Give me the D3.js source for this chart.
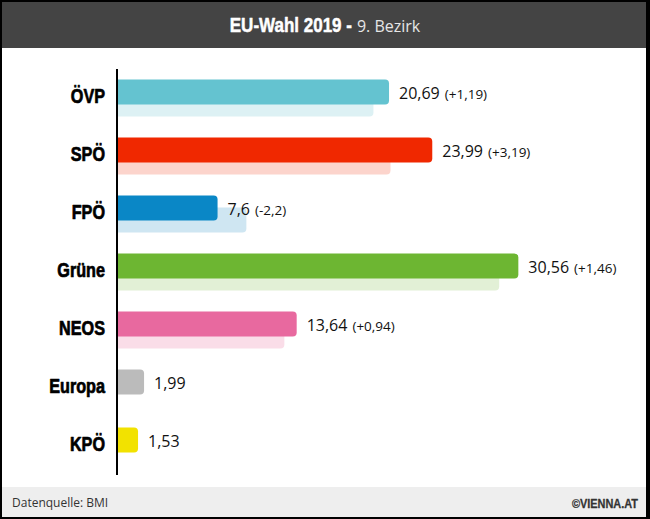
<!DOCTYPE html>
<html>
<head>
<meta charset="utf-8">
<script src="https://cdn.jsdelivr.net/npm/d3@7"></script>
<style>
  html, body { margin: 0; padding: 0; background: #fff; }
  svg { display: block; }
</style>
</head>
<body>
<div id="chart"></div>
<script>
// ---- data ----
const parties = ["ÖVP", "SPÖ", "FPÖ", "Grüne", "NEOS", "Europa", "KPÖ"];
const values  = [20.69, 23.99, 7.6, 30.56, 13.64, 1.99, 1.53];
const changes = [1.19, 3.19, -2.2, 1.46, 0.94, null, null];
const colors      = ["#64C3D0", "#F02800", "#0A87C6", "#6DB632", "#E8699F", "#BBBBBB", "#F2E200"];
const lightColors = ["#DDF1F4", "#FCD4CC", "#CFE6F2", "#E2F0D6", "#FADDE8", null, null];
const titleBold = "EU-Wahl 2019 -";
const titleRest = "9. Bezirk";
const sourceText = "Datenquelle: BMI";
const brandText = "©VIENNA.AT";

const W = 650, H = 519;
const boldFont = "'Liberation Sans', Arial, sans-serif";
const sans = "'Open Sans', 'Noto Sans', sans-serif";
const NARROW = 0.81;

const fmt = v => String(v).replace(".", ",");
const fmtChange = c => "(" + (c > 0 ? "+" : "") + fmt(Math.round(c * 100) / 100) + ")";

const data = parties.map((p, i) => ({
  party: p, value: values[i], change: changes[i],
  prev: changes[i] == null ? null : Math.round((values[i] - changes[i]) * 100) / 100,
  color: colors[i], light: lightColors[i]
}));

const svg = d3.select("#chart").append("svg").attr("width", W).attr("height", H);

function narrowText(parent, x, y, anchor, size, fill, txt, heavy) {
  const g = parent.append("g").attr("transform", `translate(${x},${y}) scale(${NARROW},1)`);
  const t = g.append("text").attr("x", 0).attr("y", 0).attr("text-anchor", anchor)
    .attr("font-family", boldFont).attr("font-weight", "bold").attr("font-size", size)
    .attr("fill", fill).text(txt);
  if (heavy) t.attr("stroke", fill).attr("stroke-width", heavy).attr("stroke-linejoin", "round");
  return t;
}

// frame
svg.append("rect").attr("width", W).attr("height", H).attr("fill", "#000");
svg.append("rect").attr("x", 2).attr("y", 2).attr("width", 644).attr("height", 515).attr("fill", "#fff");

// header
svg.append("rect").attr("x", 2).attr("y", 2).attr("width", 644).attr("height", 46).attr("fill", "#444444");
const tb = narrowText(svg, 0, 32, "start", 21, "#fff", titleBold, 0.5);
const tr = svg.append("text").attr("y", 32).attr("font-family", sans).attr("font-size", 16)
  .attr("fill", "#e6e6e6").text(titleRest);
const wb = tb.node().getComputedTextLength() * NARROW;
const gap = 5;
const wr = tr.node().getComputedTextLength();
const tx0 = 325 - (wb + gap + wr) / 2;
d3.select(tb.node().parentNode).attr("transform", `translate(${tx0},32) scale(${NARROW},1)`);
tr.attr("x", tx0 + wb + gap);

// footer
svg.append("rect").attr("x", 2).attr("y", 487).attr("width", 644).attr("height", 30).attr("fill", "#EEEEEE");
svg.append("text").attr("x", 12).attr("y", 507).text(sourceText)
  .attr("font-family", sans).attr("font-size", 12).attr("fill", "#333");
narrowText(svg, 638, 507.5, "end", 13.5, "#333", brandText, 0.3);

// scales
const x = d3.scaleLinear().domain([0, 40]).range([118, 642]);
const y = d3.scaleBand().domain(parties).range([63, 469]);
const barH = 25;

function barPath(x0, x1, yTop, h, r) {
  const w = x1 - x0;
  r = Math.min(r, w / 2, h / 2);
  return `M${x0},${yTop}H${x1 - r}Q${x1},${yTop} ${x1},${yTop + r}V${yTop + h - r}Q${x1},${yTop + h} ${x1 - r},${yTop + h}H${x0}Z`;
}

const g = svg.append("g");
const rows = g.selectAll("g.row").data(data).join("g").attr("class", "row");

// previous-result bars
rows.filter(d => d.prev != null).append("path")
  .attr("d", d => {
    const c = y(d.party) + y.bandwidth() / 2;
    return barPath(x(0), x(d.prev), c - barH / 2 + 12, barH, 4);
  })
  .attr("fill", d => d.light);

// current bars
rows.append("path")
  .attr("d", d => {
    const c = y(d.party) + y.bandwidth() / 2;
    return barPath(x(0), x(d.value), c - barH / 2, barH, 4);
  })
  .attr("fill", d => d.color);

// value labels
const vl = rows.append("text")
  .attr("x", d => x(d.value) + 10)
  .attr("y", d => y(d.party) + y.bandwidth() / 2 + 7)
  .attr("font-family", sans).attr("fill", "#111");
vl.append("tspan").attr("font-size", 16).text(d => fmt(d.value));
vl.filter(d => d.change != null).append("tspan")
  .attr("dx", 5).attr("font-size", 13.5).text(d => fmtChange(d.change));

// category labels
rows.each(function(d) {
  narrowText(d3.select(this), 105, y(d.party) + y.bandwidth() / 2 + 11, "end", 20, "#000", d.party, 0.7);
});

// axis line
svg.append("line").attr("x1", 117).attr("x2", 117).attr("y1", 69).attr("y2", 475)
  .attr("stroke", "#000").attr("stroke-width", 2);
</script>
</body>
</html>
